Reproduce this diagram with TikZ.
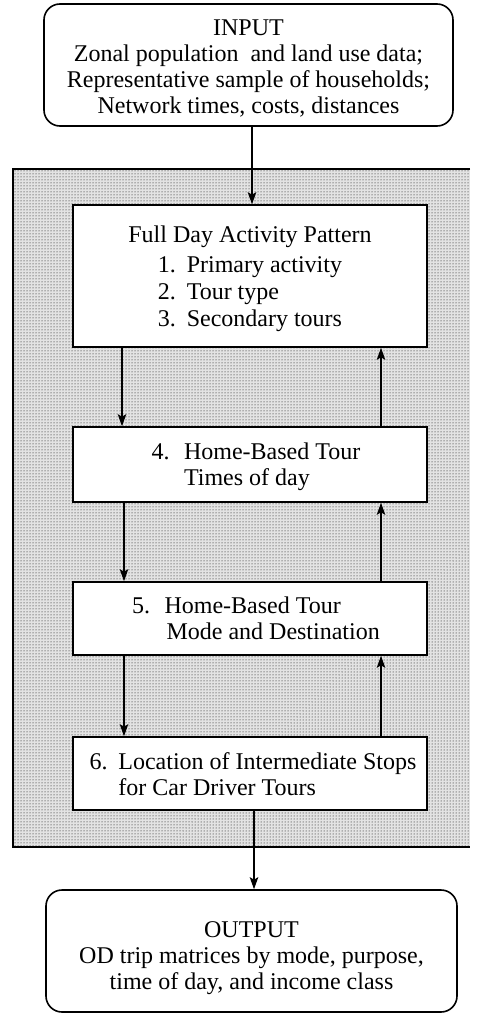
\documentclass[tikz,border=0pt]{standalone}
\usepackage{fontspec}
\setmainfont{Liberation Serif}
\usetikzlibrary{arrows.meta,patterns}

\begin{document}
\begin{tikzpicture}[x=1pt,y=-1pt,
  txt/.style={font=\fontsize{24}{26}\selectfont,align=center,inner sep=0pt},
  stepbox/.style={draw,line width=1.6pt,fill=white,inner sep=0pt,minimum width=354pt},
  endbox/.style={draw,line width=1.6pt,fill=white,inner sep=0pt,rounded corners=16pt},
  flow/.style={line width=1.3pt,-{Stealth[length=12pt,width=8.5pt,inset=2.5pt]}}
]
\useasboundingbox (0,0) rectangle (478,1014);

% dotted model area
\fill[black!11] (13,169) rectangle (470,847);
\fill[pattern=dots,pattern color=black] (13,169) rectangle (470,847);
\draw[line width=1.6pt] (470,169) -- (13,169) -- (13,847) -- (470,847);

% input and output
\node[endbox,minimum width=409pt,minimum height=122pt] (in) at (248.5,65) {};
\node[txt] (in-t) at ([yshift=-3pt]in.center)
  {INPUT\\Zonal population\ \ and land use data;\\Representative sample of households;\\Network times, costs, distances};
\node[endbox,minimum width=411pt,minimum height=122pt] (out) at (251.5,951) {};
\node[txt] (out-t) at ([yshift=-7pt]out.center)
  {OUTPUT\\OD trip matrices by mode, purpose,\\time of day, and income class};

% model steps
\node[stepbox,minimum height=142pt] (b1) at (250,276) {};
\node[txt] (b1-t) at ([yshift=-4pt]b1.center)
  {Full Day Activity Pattern\\[6pt]
   \begin{tabular}{@{}l@{\hspace{0.45em}}l@{}}
   1. & Primary activity\\[1pt]
   2. & Tour type\\[1pt]
   3. & Secondary tours
   \end{tabular}};
\node[stepbox,minimum height=75pt] (b4) at (250,464.5) {};
\node[txt] (b4-t) at ([xshift=6pt,yshift=-3pt]b4.center)
  {\begin{tabular}{@{}l@{\hspace{0.6em}}l@{}}
   4. & Home-Based Tour\\
      & Times of day
   \end{tabular}};
\node[stepbox,minimum height=73pt] (b5) at (250,618.5) {};
\node[txt] (b5-t) at ([xshift=6pt,yshift=-3pt]b5.center)
  {\begin{tabular}{@{}l@{\hspace{0.6em}}l@{}}
   5. & Home-Based Tour\\
      & \hspace{2pt}Mode and Destination
   \end{tabular}};
\node[stepbox,minimum height=73pt] (b6) at (250,773.5) {};
\node[txt] (b6-t) at ([xshift=3pt,yshift=-4pt]b6.center)
  {\begin{tabular}{@{}l@{\hspace{0.45em}}l@{}}
   6. & Location of Intermediate Stops\\
      & for Car Driver Tours
   \end{tabular}};

% connectors
\draw[flow] ([xshift=3.5pt]in.south) -- ([xshift=2pt]b1.north);
\draw[flow] ([xshift=-128pt]b1.south) -- ([xshift=-128pt]b4.north);
\draw[flow] ([xshift=-126pt]b4.south) -- ([xshift=-126pt]b5.north);
\draw[flow] ([xshift=-126pt]b5.south) -- ([xshift=-126pt]b6.north);
\draw[flow] ([xshift=131pt]b4.north) -- ([xshift=131pt]b1.south);
\draw[flow] ([xshift=131pt]b5.north) -- ([xshift=131pt]b4.south);
\draw[flow] ([xshift=131pt]b6.north) -- ([xshift=131pt]b5.south);
\draw[flow] ([xshift=4pt]b6.south) -- ([xshift=2.5pt]out.north);
\end{tikzpicture}
\end{document}
